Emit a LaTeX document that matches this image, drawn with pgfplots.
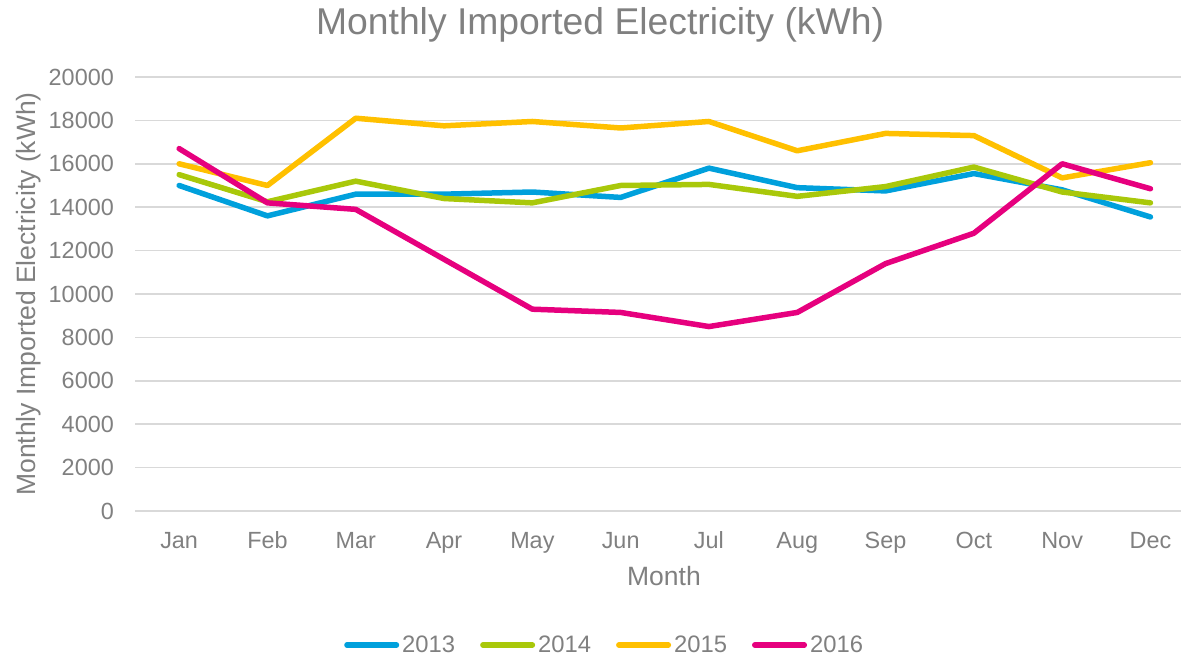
\documentclass[border=0pt]{standalone}
\usepackage{pgfplots}
\pgfplotsset{compat=1.18}
\usepackage{fontspec}
\setmainfont{Liberation Sans}
\definecolor{txtgray}{HTML}{808080}
\definecolor{gridgray}{HTML}{D9D9D9}
\definecolor{c13}{HTML}{00A0DC}
\definecolor{c14}{HTML}{A9C80A}
\definecolor{c15}{HTML}{FFC000}
\definecolor{c16}{HTML}{E6007E}
\begin{document}
\begin{tikzpicture}
\useasboundingbox (0,0) rectangle (1181bp,657bp);
\begin{axis}[
  at={(135bp,146bp)}, anchor=south west,
  scale only axis, width=1046bp, height=434bp,
  xmin=-0.5, xmax=11.346, ymin=0, ymax=20000,
  xtick={0,...,11},
  xticklabels={Jan,Feb,Mar,Apr,May,Jun,Jul,Aug,Sep,Oct,Nov,Dec},
  ytick={0,2000,...,20000},
  scaled y ticks=false,
  /pgf/number format/assume math mode=true,
  yticklabel={\pgfmathprintnumber[fixed,1000 sep={}]{\tick}},
  major tick length=0pt,
  axis line style={draw=none},
  ymajorgrids, xmajorgrids=false,
  grid style={gridgray, line width=1.5bp},
  tick label style={font=\fontsize{23.4bp}{28bp}\selectfont, text=txtgray, inner sep=0pt},
  xticklabel style={anchor=base, yshift=-37bp},
  yticklabel style={anchor=east, xshift=-21bp},
  xlabel={Month},
  ylabel={Monthly Imported Electricity (kWh)},
  label style={font=\fontsize{26.5bp}{32bp}\selectfont, text=txtgray, inner sep=0pt},
  xlabel style={at={(axis description cs:0.5057,-0.1728)}, anchor=base},
  ylabel style={at={(axis description cs:-0.0951,0.5)}, anchor=base},
  every axis title shift/.style={yshift=0pt},
  title={Monthly Imported Electricity (kWh)},
  title style={at={(axis description cs:0.4446,1.083)}, anchor=base, font=\fontsize{37.3bp}{44bp}\selectfont, text=txtgray, inner sep=0pt},
  every axis plot/.append style={line width=5.5bp, line join=round, line cap=round},
  legend columns=4,
  legend image code/.code={\draw[#1, line width=5.5bp, line cap=round] (2.75bp,0bp) -- (52.25bp,0bp);},
  legend style={at={(axis description cs:0.448,-0.3088)}, anchor=center, draw=none, fill=none,
    font=\fontsize{23.8bp}{28bp}\selectfont, text=txtgray,
    nodes={inner sep=0pt},
    /tikz/every odd column/.append style={column sep=3bp},
    /tikz/every even column/.append style={column sep=25bp}},
]
\addplot[c13] coordinates {(0,15000)(1,13600)(2,14600)(3,14600)(4,14700)(5,14450)(6,15800)(7,14900)(8,14750)(9,15550)(10,14800)(11,13550)};
\addlegendentry{2013}
\addplot[c14] coordinates {(0,15500)(1,14250)(2,15200)(3,14400)(4,14200)(5,15000)(6,15050)(7,14500)(8,14950)(9,15850)(10,14700)(11,14200)};
\addlegendentry{2014}
\addplot[c15] coordinates {(0,16000)(1,15000)(2,18100)(3,17750)(4,17950)(5,17650)(6,17950)(7,16600)(8,17400)(9,17300)(10,15350)(11,16050)};
\addlegendentry{2015}
\addplot[c16] coordinates {(0,16700)(1,14200)(2,13900)(3,11600)(4,9300)(5,9150)(6,8500)(7,9150)(8,11400)(9,12800)(10,16000)(11,14850)};
\addlegendentry{2016}
\end{axis}
\end{tikzpicture}
\end{document}
